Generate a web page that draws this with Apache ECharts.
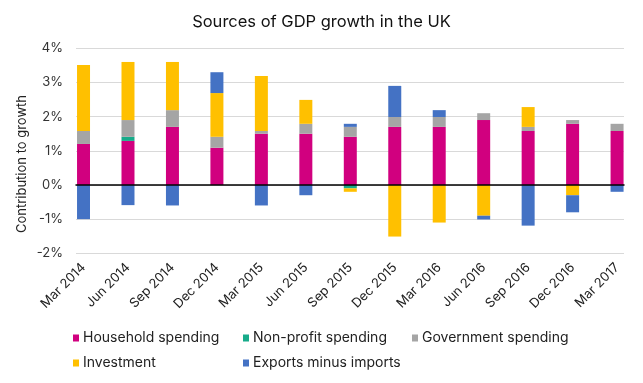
<!DOCTYPE html>
<html><head><meta charset="utf-8">
<script src="https://cdn.jsdelivr.net/npm/echarts@6/dist/echarts.min.js"></script>
<style>html,body{margin:0;padding:0;background:#fff}#c{width:643px;height:383px}</style>
</head><body><div id="c"></div>
<script>
var categories = ['Mar 2014','Jun 2014','Sep 2014','Dec 2014','Mar 2015','Jun 2015','Sep 2015','Dec 2015','Mar 2016','Jun 2016','Sep 2016','Dec 2016','Mar 2017'];
var household  = [1.20, 1.29, 1.70, 1.09, 1.50, 1.50, 1.41, 1.70, 1.70, 1.90, 1.58, 1.79, 1.58];
var nonProfit  = [0, 0.12, 0, 0, 0, 0, -0.10, 0, 0, 0, 0, 0, 0];
var government = [0.38, 0.49, 0.49, 0.32, 0.08, 0.29, 0.29, 0.29, 0.29, 0.20, 0.12, 0.11, 0.21];
var investment = [1.93, 1.70, 1.41, 1.28, 1.61, 0.70, -0.10, -1.51, -1.10, -0.90, 0.58, -0.30, 0];
var exports    = [-1.00, -0.59, -0.60, 0.61, -0.60, -0.30, 0.09, 0.91, 0.20, -0.11, -1.19, -0.50, -0.20];
var seriesNames = ['Household spending','Non-profit spending','Government spending','Investment','Exports minus imports'];
var colors = ['#D1007F','#17AB8A','#A5A5A5','#FFC000','#4472C4'];
var yTicks = [-2, -1, 0, 1, 2, 3, 4];

var FONT = 'Inter';
var chart = echarts.init(document.getElementById('c'));
var values = [household, nonProfit, government, investment, exports];
var series = seriesNames.map(function(n, i){
  return {name: n, type: 'bar', stack: 'gdp', xAxisIndex: 1, yAxisIndex: 1,
    barWidth: 13, itemStyle: {color: colors[i]}, data: values[i], z: 2};
});
var legendPos = [[73,331],[243,331],[412,331],[73,356],[243,356]];
var legends = seriesNames.map(function(n, i){
  return {data: [n], left: legendPos[i][0], top: legendPos[i][1], icon: 'rect',
    itemWidth: 6, itemHeight: 7, itemGap: 0, padding: 0, selectedMode: false,
    textStyle: {fontFamily: FONT, fontSize: 14, color: '#222', padding: [0,0,0,-1]}};
});
chart.setOption({
  animation: false,
  title: {text: 'Sources of GDP growth in the UK', left: 'center', top: 9,
    textStyle: {fontFamily: FONT, fontSize: 16.5, fontWeight: 'normal', color: '#111'}},
  color: colors,
  legend: legends,
  grid: [
    {left: 76, width: 548, top: 48.3, height: 205, containLabel: false},
    {left: 61.3, width: 578, top: 48.3, height: 205, containLabel: false}
  ],
  xAxis: [
    {type: 'category', gridIndex: 0, data: categories, z: 5,
      axisLine: {onZero: true, lineStyle: {color: '#000', width: 1.5}},
      axisTick: {show: false}, axisLabel: {show: false}, splitLine: {show: false}},
    {type: 'category', gridIndex: 1, data: categories,
      axisLine: {show: false}, axisTick: {show: false},
      axisLabel: {rotate: 45, margin: 12, fontFamily: FONT, fontSize: 13, color: '#222', interval: 0}}
  ],
  yAxis: [
    {type: 'value', gridIndex: 0, min: yTicks[0], max: yTicks[yTicks.length-1], interval: 1,
      axisLine: {show: false}, axisTick: {show: false},
      axisLabel: {formatter: '{value}%', fontFamily: FONT, fontSize: 13, color: '#333', margin: 13},
      splitLine: {lineStyle: {color: '#D9D9D9', width: 1}}},
    {type: 'value', gridIndex: 1, min: yTicks[0], max: yTicks[yTicks.length-1], interval: 1, show: false,
      splitLine: {show: false}}
  ],
  graphic: [{type: 'text', left: 16, top: 95, rotation: Math.PI/2,
    style: {text: 'Contribution to growth', font: '13px ' + FONT, fill: '#222'}}],
  series: series
});
</script></body></html>
